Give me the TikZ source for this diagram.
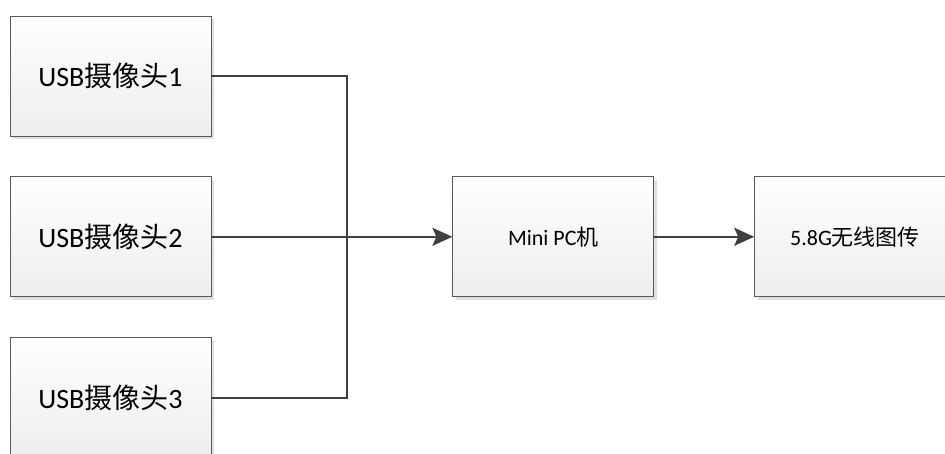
\documentclass[tikz,border=0pt]{standalone}
\usepackage{fontspec}
\setmainfont{Carlito}
\newfontfamily\cjk{Noto Sans CJK SC}
\newcommand{\zh}[1]{{\cjk #1}}
\usepackage{tikz}
\usetikzlibrary{positioning,shadows,arrows.meta}

\definecolor{linegray}{HTML}{404040}
\definecolor{edgegray}{HTML}{595959}

\begin{document}
\begin{tikzpicture}[x=1pt, y=-1pt, node distance=40pt and 100pt,
  box/.style={draw=edgegray, line width=0.8pt, top color=white, bottom color=black!7,
    minimum width=201pt, minimum height=120pt, inner sep=0pt, align=center,
    drop shadow={shadow xshift=3pt, shadow yshift=-3pt, fill=black!12, opacity=1}},
  link/.style={draw=linegray, line width=2pt},
  arr/.style={link, -{Stealth[length=20pt, width=18pt, inset=4pt]}}]
\useasboundingbox (0,0) rectangle (945,454);
\node[box, font=\fontsize{28}{30}\selectfont] (cam1) at (110.5,76) {USB\zh{摄像头}1};
\node[box, font=\fontsize{28}{30}\selectfont] (cam2) [below=of cam1] {USB\zh{摄像头}2};
\node[box, font=\fontsize{28}{30}\selectfont] (cam3) [below=of cam2] {USB\zh{摄像头}3};
\node[box, font=\fontsize{22}{24}\selectfont] (pc) [right=241pt of cam2] {Mini PC\zh{机}};
\node[box, font=\fontsize{22}{24}\selectfont] (tx) [right=of pc] {5.8G\zh{无线图传}};
\coordinate (merge) at (347,236);
\draw[link] (cam1) -| (merge);
\draw[link] (cam3) -| (merge);
\draw[arr] (cam2) -- (pc);
\draw[arr] (pc) -- (tx);
\end{tikzpicture}
\end{document}
